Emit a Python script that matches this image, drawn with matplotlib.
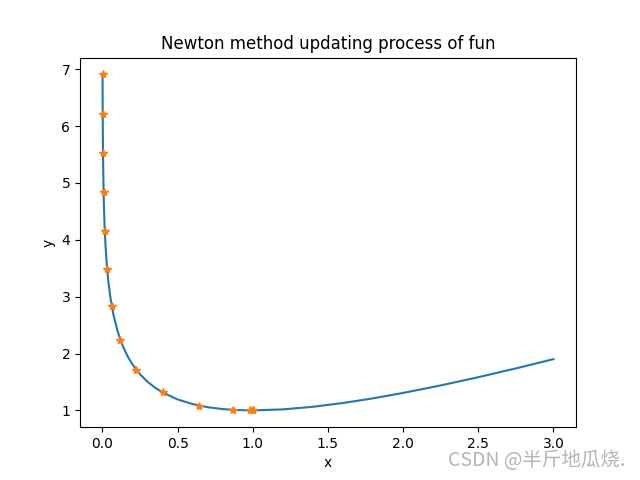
import matplotlib
matplotlib.use("Agg")
import matplotlib.pyplot as plt

# curve y = x - ln(x)
curve_x = [0.001, 0.002, 0.004, 0.008, 0.01, 0.015, 0.02, 0.03, 0.04, 0.05,
           0.06, 0.075, 0.1, 0.125, 0.15, 0.175, 0.2, 0.25, 0.3, 0.35, 0.4,
           0.5, 0.6, 0.7, 0.8, 0.9, 1.0, 1.2, 1.4, 1.6, 1.8, 2.0, 2.25, 2.5,
           2.75, 3.0]
curve_y = [6.9088, 6.2166, 5.5255, 4.8363, 4.6152, 4.2147, 3.9320, 3.5366,
           3.2589, 3.0457, 2.8734, 2.6653, 2.4026, 2.2044, 2.0471, 1.9180,
           1.8094, 1.6363, 1.5040, 1.3998, 1.3163, 1.1931, 1.1108, 1.0567,
           1.0231, 1.0054, 1.0, 1.0177, 1.0635, 1.1300, 1.2122, 1.3069,
           1.4391, 1.5837, 1.7384, 1.9014]

# newton iterates
iter_x = [0.001, 0.002, 0.004, 0.00797, 0.01588, 0.0315, 0.0620, 0.1202,
          0.2260, 0.4009, 0.6413, 0.8712, 0.9834, 0.9997, 1.0]
iter_y = [6.9088, 6.2176, 5.5271, 4.8399, 4.1586, 3.4889, 2.8422, 2.2387,
          1.7133, 1.3150, 1.0856, 1.0091, 1.0001, 1.0, 1.0]

fig = plt.figure(figsize=(6.4, 4.8), dpi=100)
plt.plot(curve_x, curve_y)
plt.plot(iter_x, iter_y, '*')
plt.title('Newton method updating process of fun')
plt.xlabel('x')
plt.ylabel('y')

# watermark
fig.text(0.977, 0.04, 'CSDN @半斤地瓜烧.', ha='right', va='center',
         fontsize=14, color='#b4b4b4',
         family=['Noto Sans CJK SC', 'DejaVu Sans'])

plt.savefig('out.png')
